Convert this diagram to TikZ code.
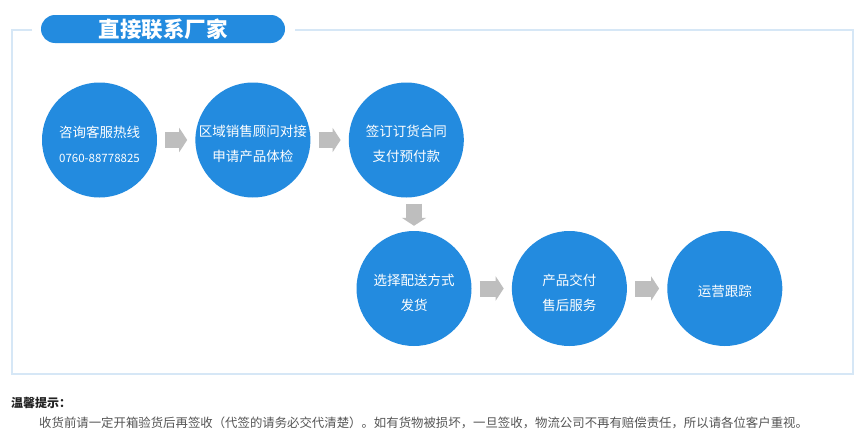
\documentclass[tikz,border=0pt]{standalone}
\usepackage{fontspec}
\usepackage{xcolor}
\usetikzlibrary{arrows.meta,positioning,calc}
\newfontfamily\cjk{Noto Sans CJK SC}
\definecolor{stepblue}{HTML}{238BDF}
\definecolor{framebl}{HTML}{D6E7F6}
\definecolor{flowgray}{HTML}{BEBEBE}
\definecolor{notegray}{HTML}{555555}
\definecolor{ink}{HTML}{222222}

\begin{document}
\begin{tikzpicture}[x=1pt,y=-1pt,font=\cjk,
  stepnode/.style={circle,fill=stepblue,minimum size=115pt,inner sep=0pt},
  steptext/.style={text=white,align=center,yshift=-4pt,
    font=\cjk\fontsize{13.5}{25}\selectfont},
  flow/.style={flowgray,line width=16pt,-{Triangle[length=8pt,width=24pt]},
    shorten <=8pt,shorten >=8pt},
  frameline/.style={framebl,line width=2pt},
  titlepill/.style={fill=stepblue,rounded corners=14pt,minimum width=244pt,
    minimum height=28pt,text=white,font=\cjk\bfseries\fontsize{21.5}{21.5}\selectfont}]
\useasboundingbox[fill=white] (0,0) rectangle (860,447);
% frame with gap for the title
\draw[frameline] (32,30) -| (12,374) -| (853,30) -- (295,30);
\node[titlepill] (title) at (163,29) {\raisebox{-1pt}{直接联系厂家}};
% first row
\node[stepnode,label={[steptext]center:咨询客服热线\\{\fontsize{11.5}{14}\selectfont 0760-88778825}}] (c1) at (99.5,140) {};
\node[stepnode,right=38pt of c1,label={[steptext]center:区域销售顾问对接\\申请产品体检}] (c2) {};
\node[stepnode,right=38pt of c2,label={[steptext]center:签订订货合同\\支付预付款}] (c3) {};
% second row
\node[stepnode,label={[steptext]center:选择配送方式\\发货}] (c4) at (414,288.5) {};
\node[stepnode,right=40pt of c4,label={[steptext]center:产品交付\\售后服务}] (c5) {};
\node[stepnode,right=40pt of c5,label={[steptext,yshift=1pt]center:运营跟踪}] (c6) {};
\draw[flow] (c1) -- (c2);
\draw[flow] (c2) -- (c3);
\draw[flow,shorten <=6pt,shorten >=5pt] (c4.north |- c3.south) -- (c4.north);
\draw[flow] (c4) -- (c5);
\draw[flow] (c5) -- (c6);
% notes
\node[anchor=west,inner sep=0pt,text=ink,font=\cjk\bfseries\fontsize{12}{14}\selectfont] (tiphead) at (11,403) {温馨提示：};
\node[anchor=west,inner sep=0pt,text=notegray,font=\cjk\fontsize{12.4}{14}\selectfont] (tipbody) at (39,423)
  {收货前请一定开箱验货后再签收（代签的请务必交代清楚）。如有货物被损坏，一旦签收，物流公司不再有赔偿责任，所以请各位客户重视。};
\end{tikzpicture}
\end{document}
